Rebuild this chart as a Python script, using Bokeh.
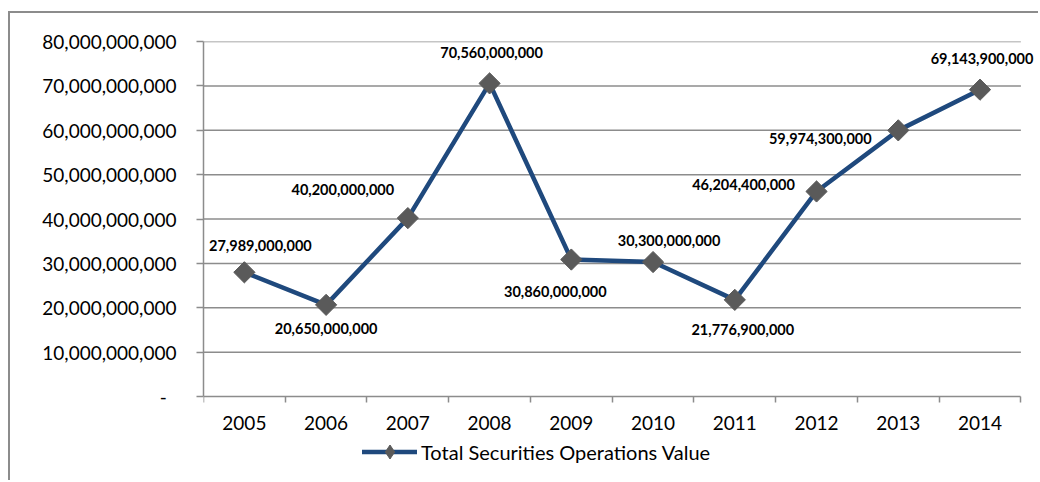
from bokeh.plotting import figure
from bokeh.models import Range1d, FixedTicker, ColumnDataSource, Legend, LegendItem
from bokeh.core.properties import value
from bokeh.embed import file_html
from bokeh.resources import INLINE
import math

# ---- data ----
years = ["2005", "2006", "2007", "2008", "2009", "2010", "2011", "2012", "2013", "2014"]
values = [27989000000, 20650000000, 40200000000, 70560000000, 30860000000,
          30300000000, 21776900000, 46204400000, 59974300000, 69143900000]
series_name = "Total Securities Operations Value"
y_ticks = [0, 10000000000, 20000000000, 30000000000, 40000000000,
           50000000000, 60000000000, 70000000000, 80000000000]
y_tick_labels = ["-\u00a0\u00a0", "10,000,000,000", "20,000,000,000", "30,000,000,000",
                 "40,000,000,000", "50,000,000,000", "60,000,000,000",
                 "70,000,000,000", "80,000,000,000"]

# label placement offsets (screen px)
label_dx = [16, 0, -65, 2, -16, 16, 8, -73, -78, 2]
label_dy = [-27, 24, -29, -31, 32, -22, 30, -7, 8, -31]

FONT = "Lato"
GRID = "#8c8c8c"
LINE = "#1F497D"
MARK = "#5a5a5a"
N = len(years)

# frame geometry (px): plot area top 28, value-zero line at 355 px below it,
# frame extended to the canvas bottom so the legend sits inside the frame
H = 469
TOP = 28
ZERO_PX = 355
y_lo = -(H - TOP - ZERO_PX) / ZERO_PX * y_ticks[-1]

xpos = [i + 0.5 for i in range(N)]
src = ColumnDataSource(dict(
    x=xpos, y=values,
    label=[f"{v:,}" for v in values],
    dx=label_dx, dy=label_dy,
))

p = figure(width=1030, height=H, output_backend="svg", toolbar_location=None,
           x_range=Range1d(0, N * 1.024), y_range=Range1d(y_lo, y_ticks[-1]),
           min_border_left=193, min_border_top=TOP, min_border_right=0,
           min_border_bottom=0)
p.styles = {"border-left": f"2px solid {GRID}", "border-top": f"2px solid {GRID}",
            "margin-left": "8px", "margin-top": "11px"}
p.outline_line_color = None
p.background_fill_color = "white"
p.border_fill_color = "white"

# y axis
p.yaxis.bounds = (0, y_ticks[-1])
p.yaxis.ticker = FixedTicker(ticks=y_ticks)
p.yaxis.major_label_overrides = {t: l for t, l in zip(y_ticks, y_tick_labels)}
p.yaxis.major_tick_out = 7
p.yaxis.major_tick_in = 0
p.yaxis.minor_tick_line_color = None
p.yaxis.major_tick_line_color = GRID
p.yaxis.major_tick_line_width = 1.5
p.yaxis.axis_line_color = GRID
p.yaxis.axis_line_width = 1.5
p.yaxis.major_label_standoff = 20
p.yaxis.major_label_text_font = FONT
p.yaxis.major_label_text_font_size = "19px"
p.yaxis.major_label_text_color = "#000000"

# x axis, pinned at value zero
p.xaxis.fixed_location = 0
p.xaxis.bounds = (0, N)
p.xaxis.ticker = FixedTicker(ticks=xpos, minor_ticks=list(range(N + 1)))
p.xaxis.major_label_overrides = {x: y for x, y in zip(xpos, years)}
p.xaxis.major_tick_out = 0
p.xaxis.major_tick_in = 0
p.xaxis.major_tick_line_color = None
p.xaxis.minor_tick_out = 6
p.xaxis.minor_tick_in = 0
p.xaxis.minor_tick_line_color = GRID
p.xaxis.minor_tick_line_width = 1.5
p.xaxis.axis_line_color = GRID
p.xaxis.axis_line_width = 1.5
p.xaxis.major_label_standoff = 13
p.xaxis.major_label_text_font = FONT
p.xaxis.major_label_text_font_size = "19px"
p.xaxis.major_label_text_color = "#000000"

p.xgrid.grid_line_color = None
p.ygrid.grid_line_color = None
# horizontal gridlines limited to the category span
p.segment(x0=[0] * (len(y_ticks) - 1), y0=y_ticks[1:],
          x1=[N] * (len(y_ticks) - 1), y1=y_ticks[1:],
          line_color=GRID, line_width=1.5)

r_line = p.line("x", "y", source=src, line_color=LINE, line_width=4.5,
                line_join="round", line_cap="round")
# diamond marker used for the legend swatch (hidden under the rotated squares)
r_leg = p.scatter("x", "y", source=src, marker="diamond", size=14,
                  fill_color=MARK, line_color=MARK)
r_mark = p.scatter("x", "y", source=src, marker="square", size=15,
                   angle=math.pi / 4, fill_color=MARK, line_color=MARK)
p.text("x", "y", text="label", source=src, x_offset="dx", y_offset="dy",
       text_align="center", text_baseline="middle",
       text_font=value(FONT), text_font_style="bold",
       text_font_size="14.5px", text_color="#000000")

legend = Legend(items=[LegendItem(label=series_name, renderers=[r_line, r_leg])],
                location=(159, 13), orientation="horizontal",
                glyph_width=55, glyph_height=35, label_standoff=4,
                padding=0, margin=0, border_line_color=None,
                background_fill_alpha=0,
                label_text_font=FONT, label_text_font_size="20px",
                label_text_color="#000000")
p.add_layout(legend, "center")

open("out.html", "w").write(file_html(p, INLINE))
